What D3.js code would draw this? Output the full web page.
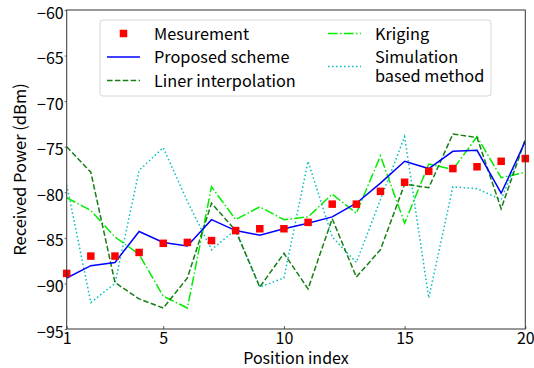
<!DOCTYPE html>
<html>
<head>
<meta charset="utf-8">
<script src="https://cdn.jsdelivr.net/npm/d3@7"></script>
<style>
  body { margin: 0; background: #fff; }
  svg text { font-family: "Noto Sans CJK JP", "Noto Sans", sans-serif; fill: #000; }
</style>
</head>
<body>
<div id="main"></div>
<script>
// data
const positions = [1, 2, 3, 4, 5, 6, 7, 8, 9, 10, 11, 12, 13, 14, 15, 16, 17, 18, 19, 20];
const measurement = [-88.9, -87.0, -87.0, -86.6, -85.6, -85.5, -85.3, -84.2, -84.0, -84.0,
  -83.3, -81.3, -81.3, -79.9, -78.9, -77.7, -77.4, -77.2, -76.6, -76.3];
const proposed = [-89.4, -88.05, -87.7, -84.3, -85.5, -85.9, -83.0, -84.2, -84.7, -84.0,
  -83.4, -82.7, -81.2, -79.0, -76.6, -77.4, -75.5, -75.4, -80.1, -74.4];
const liner = [-75.0, -77.8, -89.9, -91.7, -92.7, -89.4, -81.2, -84.2, -90.4, -86.7,
  -90.6, -82.9, -89.3, -86.3, -79.1, -79.5, -73.6, -74.0, -81.8, -74.2];
const kriging = [-80.6, -82.0, -84.9, -86.8, -91.4, -92.7, -79.4, -83.0, -81.6, -83.0,
  -82.7, -80.2, -82.3, -76.0, -83.4, -76.9, -77.5, -73.9, -78.4, -77.8];
const simulation = [-79.2, -92.1, -90.0, -77.6, -75.1, -81.0, -86.3, -84.1, -90.4, -89.4,
  -76.6, -84.9, -87.7, -80.8, -73.9, -91.6, -79.4, -79.6, -80.8, -74.3];
const xTicks = [1, 5, 10, 15, 20];
const yTicks = [-95, -90, -85, -80, -75, -70, -65, -60];

// dimensions and margins
const W = 534, H = 368;
const margin = { top: 10, right: 8.7, bottom: 39, left: 66.7 };
const width = W - margin.left - margin.right;
const height = H - margin.top - margin.bottom;

const svg = d3.select('#main').append('svg')
  .attr('width', W)
  .attr('height', H);

const chart = svg.append('g')
  .attr('transform', `translate(${margin.left},${margin.top})`);

const xScale = d3.scaleLinear().domain([1, 20]).range([0, width]);
const yScale = d3.scaleLinear().domain([-95, -60]).range([height, 0]);

chart.append('defs').append('clipPath').attr('id', 'clip')
  .append('rect').attr('width', width).attr('height', height);

// series lines
const series = [
  { values: simulation, color: '#00bfbf', dash: '1.5,2.5' },
  { values: kriging, color: '#00ee00', dash: '9.6,2.4,1.5,2.4' },
  { values: liner, color: '#157f15', dash: '5.5,2.4' },
  { values: proposed, color: '#0000ff', dash: null }
];

const line = d3.line()
  .x((d, i) => xScale(positions[i]))
  .y((d) => yScale(d));

const plot = chart.append('g').attr('clip-path', 'url(#clip)');

plot.selectAll('.series')
  .data(series)
  .enter()
  .append('path')
  .attr('class', 'series')
  .attr('d', (s) => line(s.values))
  .attr('fill', 'none')
  .attr('stroke', (s) => s.color)
  .attr('stroke-width', 1.5)
  .attr('stroke-dasharray', (s) => s.dash);

// measurement markers
const ms = 7.5;
chart.selectAll('.meas')
  .data(measurement)
  .enter()
  .append('rect')
  .attr('class', 'meas')
  .attr('x', (d, i) => xScale(positions[i]) - ms / 2)
  .attr('y', (d) => yScale(d) - ms / 2)
  .attr('width', ms)
  .attr('height', ms)
  .attr('fill', '#ff0000');

// axes
const minus = (v) => String(v).replace('-', '\u2212');

const xAxis = chart.append('g')
  .attr('transform', `translate(0,${height})`)
  .call(d3.axisBottom(xScale).tickValues(xTicks).tickSize(-3).tickPadding(3.5).tickFormat(d3.format('d')));

const yAxis = chart.append('g')
  .call(d3.axisLeft(yScale).tickValues(yTicks).tickSize(2).tickPadding(1).tickFormat(minus));

[xAxis, yAxis].forEach((ax) => {
  ax.select('.domain').remove();
  ax.selectAll('line').attr('stroke', '#333').attr('stroke-width', 0.8);
  ax.selectAll('text').attr('font-size', 16).attr('fill', '#000');
});
yAxis.selectAll('text').attr('dy', '0.5em');

// frame
chart.append('rect')
  .attr('width', width)
  .attr('height', height)
  .attr('fill', 'none')
  .attr('stroke', '#333')
  .attr('stroke-width', 1);

// axis labels
svg.append('text')
  .attr('x', margin.left + width / 2)
  .attr('y', 364)
  .attr('text-anchor', 'middle')
  .attr('font-size', 16)
  .text('Position index');

svg.append('text')
  .attr('transform', `translate(26,${margin.top + height / 2}) rotate(-90)`)
  .attr('text-anchor', 'middle')
  .attr('font-size', 16.5)
  .text('Received Power (dBm)');

// legend
const legend = svg.append('g');
legend.append('rect')
  .attr('x', 100).attr('y', 20)
  .attr('width', 391).attr('height', 76)
  .attr('rx', 3)
  .attr('fill', '#fff')
  .attr('fill-opacity', 0.85)
  .attr('stroke', '#d6d6d6')
  .attr('stroke-width', 1);

const legendItems = [
  { label: ['Mesurement'], x: 107, y: 33.5, marker: true },
  { label: ['Proposed scheme'], x: 107, y: 57, s: series[3] },
  { label: ['Liner interpolation'], x: 107, y: 80.5, s: series[2] },
  { label: ['Kriging'], x: 328, y: 33.5, s: series[1] },
  { label: ['Simulation', 'based method'], x: 328, y: 66.5, s: series[0] }
];

legendItems.forEach((it) => {
  if (it.marker) {
    legend.append('rect')
      .attr('x', it.x + 16.5 - ms / 2).attr('y', it.y - ms / 2)
      .attr('width', ms).attr('height', ms)
      .attr('fill', '#ff0000');
  } else {
    legend.append('line')
      .attr('x1', it.x).attr('x2', it.x + 33)
      .attr('y1', it.y).attr('y2', it.y)
      .attr('stroke', it.s.color)
      .attr('stroke-width', 1.5)
      .attr('stroke-dasharray', it.s.dash);
  }
  const n = it.label.length;
  it.label.forEach((l, k) => {
    legend.append('text')
      .attr('x', it.x + 47)
      .attr('y', it.y + 6 + (k - (n - 1) / 2) * 18.3)
      .attr('font-size', 16.3)
      .text(l);
  });
});
</script>
</body>
</html>
